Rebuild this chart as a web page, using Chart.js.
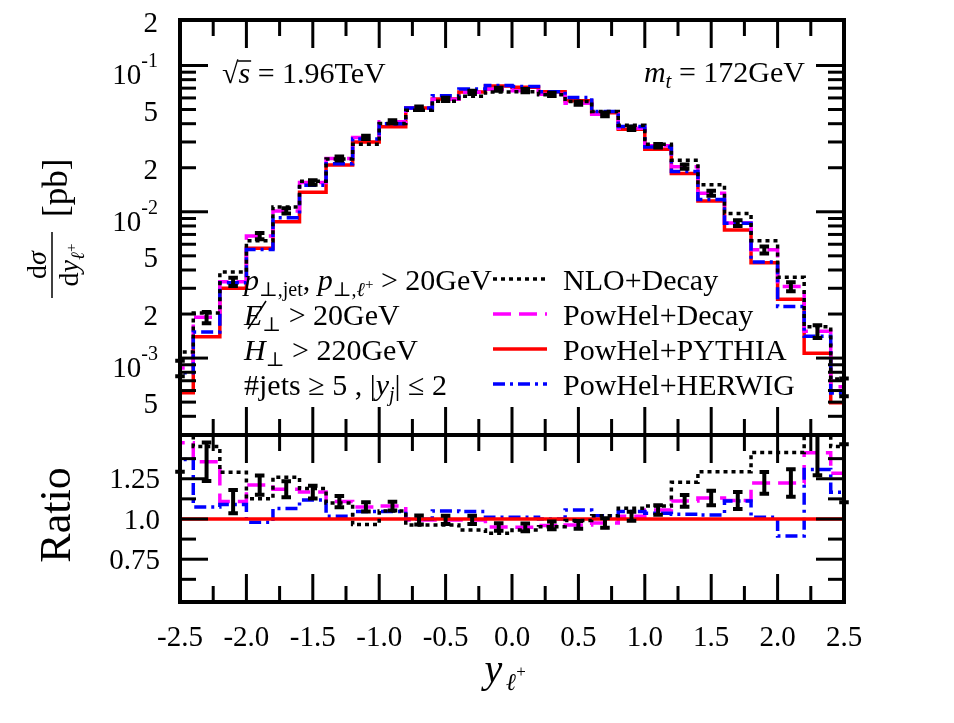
<!DOCTYPE html>
<html>
<head>
<meta charset="utf-8">
<script src="https://cdn.jsdelivr.net/npm/chart.js@4.4.1/dist/chart.umd.min.js"></script>
<style>
  body { margin: 0; background: #fff; }
  #wrap { position: relative; width: 954px; height: 723px; }
  #wrap canvas { position: absolute; left: 0; top: 0; }
</style>
</head>
<body>
<div id="wrap">
  <canvas id="ratioChart" width="954" height="723"></canvas>
  <canvas id="mainChart" width="954" height="723"></canvas>
</div>
<script>
// bins of width 0.2 (edges), centres at odd tenths
const binEdges = [-2.6, -2.4, -2.2, -2.0, -1.8, -1.6, -1.4, -1.2, -1.0, -0.8, -0.6, -0.4, -0.2, 0.0,
                  0.2, 0.4, 0.6, 0.8, 1.0, 1.2, 1.4, 1.6, 1.8, 2.0, 2.2, 2.4, 2.6];
const binCenters = [-2.5, -2.3, -2.1, -1.9, -1.7, -1.5, -1.3, -1.1, -0.9, -0.7, -0.5, -0.3, -0.1,
                    0.1, 0.3, 0.5, 0.7, 0.9, 1.1, 1.3, 1.5, 1.7, 1.9, 2.1, 2.3, 2.5];

// dsigma/dy [pb]
const nloDecay = [1.10e-3, 2.03e-3, 3.87e-3, 6.33e-3, 1.079e-2, 0.01617, 0.02299, 0.02898, 0.04011, 0.0494,
                  0.05691, 0.06151, 0.06596, 0.06617, 0.06302, 0.05673, 0.04855, 0.03902, 0.02894, 0.02247,
                  0.01533, 0.00972, 0.006349, 0.003563, 0.00164, 7.19e-4];
const powhelDecay = [8.55e-4, 1.90e-3, 3.32e-3, 6.82e-3, 1.014e-2, 0.01586, 0.02316, 0.03225, 0.04126, 0.0510,
                     0.05875, 0.0656, 0.06878, 0.06731, 0.06355, 0.05518, 0.04641, 0.03722, 0.0283, 0.02035,
                     0.01339, 0.008374, 0.005496, 0.003084, 0.001524, 6.37e-4];
const powhelPythia = [5.80e-4, 1.40e-3, 3.00e-3, 5.63e-3, 8.56e-3, 0.01359, 0.0209, 0.0300, 0.0382, 0.0513,
                      0.0591, 0.0660, 0.0724, 0.0710, 0.0662, 0.0573, 0.0476, 0.0366, 0.0268, 0.0183,
                      0.01185, 0.00751, 0.00449, 0.00252, 0.001079, 4.96e-4];
const powhelHerwig = [7.95e-4, 1.505e-3, 3.27e-3, 5.52e-3, 9.12e-3, 0.01519, 0.02126, 0.03138, 0.03996, 0.0512,
                      0.06206, 0.06904, 0.07312, 0.07171, 0.0662, 0.06051, 0.04855, 0.03828, 0.02774, 0.01885,
                      0.01215, 0.008351, 0.004535, 0.002253, 0.001411, 5.78e-4];
// relative error of PowHel+Decay
const decayRelErr = [0.122, 0.0885, 0.065, 0.0495, 0.042, 0.034, 0.031, 0.027, 0.025, 0.028, 0.026, 0.026, 0.024,
                     0.026, 0.025, 0.025, 0.030, 0.0275, 0.028, 0.033, 0.040, 0.047, 0.055, 0.070, 0.099, 0.14];

// ratios to PowHel+PYTHIA
const ratioNlo = [1.9, 1.45, 1.29, 1.125, 1.26, 1.19, 1.10, 0.966, 1.05, 0.963, 0.963, 0.932, 0.911,
                  0.932, 0.952, 0.99, 1.02, 1.066, 1.08, 1.228, 1.294, 1.294, 1.414, 1.414, 1.52, 1.45];
const ratioDecay = [1.474, 1.356, 1.108, 1.211, 1.185, 1.167, 1.108, 1.075, 1.08, 0.994, 0.994, 0.994, 0.95,
                    0.948, 0.96, 0.963, 0.975, 1.017, 1.056, 1.112, 1.13, 1.115, 1.224, 1.224, 1.412, 1.284];
const ratioPythia = [1, 1, 1, 1, 1, 1, 1, 1, 1, 1, 1, 1, 1, 1, 1, 1, 1, 1, 1, 1, 1, 1, 1, 1, 1, 1];
const ratioHerwig = [1.37, 1.075, 1.09, 0.98, 1.065, 1.118, 1.017, 1.046, 1.046, 0.998, 1.05, 1.046, 1.01,
                     1.01, 1.0, 1.056, 1.02, 1.046, 1.035, 1.03, 1.025, 1.112, 1.01, 0.894, 1.308, 1.166];

// ticks
const xMajorTicks = [-2.5, -2.0, -1.5, -1.0, -0.5, 0.0, 0.5, 1.0, 1.5, 2.0, 2.5];
const xMinorTicks = [-2.25, -1.75, -1.25, -0.75, -0.25, 0.25, 0.75, 1.25, 1.75, 2.25];
const xTickLabels = ['-2.5', '-2.0', '-1.5', '-1.0', '-0.5', '0.0', '0.5', '1.0', '1.5', '2.0', '2.5'];
const yDecadeTicks = [0.1, 0.01, 0.001];
const yMinorTicks = [0.2, 0.09, 0.08, 0.07, 0.06, 0.05, 0.04, 0.03, 0.02,
                     0.009, 0.008, 0.007, 0.006, 0.005, 0.004, 0.003, 0.002,
                     0.0009, 0.0008, 0.0007, 0.0006, 0.0005, 0.0004, 0.0003];
const yTickValues = [0.2, 0.1, 0.05, 0.02, 0.01, 0.005, 0.002, 0.001, 0.0005];
const yTickLabels = [['2', ''], ['10', '-1'], ['5', ''], ['2', ''], ['10', '-2'], ['5', ''], ['2', ''], ['10', '-3'], ['5', '']];
const ratioMajorTicks = [0.75, 1.0, 1.25];
const ratioMinorTicks = [0.625, 0.875, 1.125, 1.375];
const ratioTickLabels = ['0.75', '1.0', '1.25'];

const legendNames = ['NLO+Decay', 'PowHel+Decay', 'PowHel+PYTHIA', 'PowHel+HERWIG'];

const styles = {
  nlo: { color: '#000000', dash: [4, 4] },
  decay: { color: '#ff00ff', dash: [18, 8] },
  pythia: { color: '#ff0000', dash: [] },
  herwig: { color: '#0000ff', dash: [12, 5, 3, 5] }
};

const LW = 3.5;
const font = (s, it) => `${it ? 'italic ' : ''}${s}px "Liberation Serif", "DejaVu Serif", serif`;
const P = (t, s, i, dy) => ({ t, s, i: !!i, dy: dy || 0 });

function drawRich(ctx, x, y, parts, align) {
  let w = 0;
  parts.forEach(p => { ctx.font = font(p.s, p.i); w += ctx.measureText(p.t).width; });
  let cx = align === 'center' ? x - w / 2 : align === 'right' ? x - w : x;
  const pos = [];
  parts.forEach(p => {
    ctx.font = font(p.s, p.i);
    ctx.fillText(p.t, cx, y + p.dy);
    const pw = ctx.measureText(p.t).width;
    pos.push([cx, pw]);
    cx += pw;
  });
  return pos;
}

function steps(vals) {
  const pts = vals.map((v, i) => ({ x: binEdges[i], y: v }));
  pts.push({ x: binEdges[binEdges.length - 1], y: vals[vals.length - 1] });
  return pts;
}

function errorBars(vals, rel) {
  const w = 0.036, pts = [];
  binCenters.forEach((c, i) => {
    const lo = vals[i] * (1 - rel[i]), hi = vals[i] * (1 + rel[i]);
    pts.push({ x: c - w, y: lo }, { x: c + w, y: lo }, { x: c, y: null },
             { x: c, y: lo }, { x: c, y: hi }, { x: c, y: null },
             { x: c - w, y: hi }, { x: c + w, y: hi }, { x: c, y: null });
  });
  return pts;
}

function stepSet(vals, st, order) {
  return {
    data: steps(vals), stepped: 'before', borderColor: st.color, borderDash: st.dash,
    borderWidth: LW, pointRadius: 0, fill: false, borderCapStyle: 'butt', order: order
  };
}

function errSet(vals) {
  return {
    data: errorBars(vals, decayRelErr), borderColor: '#000', borderWidth: 4, pointRadius: 0,
    fill: false, spanGaps: false, borderCapStyle: 'butt', order: 0,
    clip: { left: 7, right: 7, top: 0, bottom: 0 }
  };
}

function line(ctx, x1, y1, x2, y2) {
  ctx.beginPath(); ctx.moveTo(x1, y1); ctx.lineTo(x2, y2); ctx.stroke();
}

function drawFrame(chart, yMajor, yMinor) {
  const { ctx, chartArea: a, scales } = chart;
  ctx.save();
  ctx.strokeStyle = '#000';
  ctx.lineWidth = 3;
  ctx.setLineDash([]);
  xMajorTicks.forEach(v => {
    const x = scales.x.getPixelForValue(v);
    line(ctx, x, a.top, x, a.top + 28); line(ctx, x, a.bottom, x, a.bottom - 28);
  });
  xMinorTicks.forEach(v => {
    const x = scales.x.getPixelForValue(v);
    line(ctx, x, a.top, x, a.top + 16); line(ctx, x, a.bottom, x, a.bottom - 16);
  });
  yMajor.forEach(v => {
    const y = scales.y.getPixelForValue(v);
    line(ctx, a.left, y, a.left + 28, y); line(ctx, a.right, y, a.right - 28, y);
  });
  yMinor.forEach(v => {
    const y = scales.y.getPixelForValue(v);
    if (y < a.top + 2 || y > a.bottom - 2) return;
    line(ctx, a.left, y, a.left + 16, y); line(ctx, a.right, y, a.right - 16, y);
  });
  ctx.lineWidth = 4;
  ctx.strokeRect(a.left, a.top, a.right - a.left, a.bottom - a.top);
  ctx.restore();
}

const mainDecor = {
  id: 'mainDecor',
  afterDatasetsDraw(chart) {
    const { ctx, scales } = chart;
    drawFrame(chart, yDecadeTicks, yMinorTicks);
    ctx.save();
    ctx.fillStyle = '#000';
    ctx.textBaseline = 'alphabetic';
    // y tick labels
    yTickValues.forEach((v, i) => {
      const y = scales.y.getPixelForValue(v);
      const [b, e] = yTickLabels[i];
      if (e) {
        ctx.font = font(20, false);
        const ew = ctx.measureText(e).width;
        ctx.textAlign = 'left';
        ctx.fillText(e, 158 - ew, y + 2);
        ctx.font = font(29, false);
        ctx.textAlign = 'right';
        ctx.fillText(b, 158 - ew, y + 19);
      } else {
        ctx.font = font(29, false);
        ctx.textAlign = 'right';
        ctx.fillText(b, 158, y + 11);
      }
    });
    ctx.textAlign = 'left';
    // sqrt(s) annotation
    const pos = drawRich(ctx, 222, 83, [P('\u221A', 30), P('s', 30, true), P(' = 1.96TeV', 30)]);
    ctx.lineWidth = 1.5;
    line(ctx, pos[1][0] - 1, 61, pos[1][0] + pos[1][1] + 1, 61);
    drawRich(ctx, 805, 82, [P('m', 30, true), P('t', 21, true, 6), P(' = 172GeV', 30)], 'right');
    // cut text
    const bl = [290, 325, 360, 395];
    drawRich(ctx, 244, bl[0], [P('p', 30, true), P('\u22A5,jet', 20, false, 6), P(', ', 30),
      P('p', 30, true), P('\u22A5,', 20, false, 6), P('\u2113', 20, true, 6), P('+', 15, false, -1), P(' > 20GeV', 30)]);
    const ep = drawRich(ctx, 244, bl[1], [P('E', 30, true), P('\u22A5', 20, false, 6), P(' > 20GeV', 30)]);
    ctx.lineWidth = 1.5;
    line(ctx, ep[0][0] + 4, bl[1] + 4, ep[0][0] + 22, bl[1] - 24);
    drawRich(ctx, 244, bl[2], [P('H', 30, true), P('\u22A5', 20, false, 6), P(' > 220GeV', 30)]);
    drawRich(ctx, 244, bl[3], [P('#jets \u2265 5 , |', 30), P('y', 30, true), P('j', 20, true, 6), P('| \u2264 2', 30)]);
    // legend
    const st = [styles.nlo, styles.decay, styles.pythia, styles.herwig];
    legendNames.forEach((name, i) => {
      ctx.font = font(30, false);
      ctx.fillText(name, 563, bl[i]);
      ctx.save();
      ctx.strokeStyle = st[i].color;
      ctx.lineWidth = LW;
      ctx.setLineDash(st[i].dash);
      line(ctx, 493, bl[i] - 11, 547, bl[i] - 11);
      ctx.restore();
    });
    // y title
    ctx.save();
    ctx.translate(52, 265);
    ctx.rotate(-Math.PI / 2);
    ctx.lineWidth = 1.5;
    line(ctx, -33, 0, 33, 0);
    drawRich(ctx, 0, -6, [P('d', 28), P('\u03C3', 28, true)], 'center');
    drawRich(ctx, 0, 26, [P('d', 28), P('y', 28, true), P('\u2113', 19, true, 6), P('+', 15, false, -2)], 'center');
    ctx.font = font(35, false);
    ctx.textAlign = 'left';
    ctx.fillText('[pb]', 48, 15);
    ctx.restore();
    ctx.restore();
  }
};

const ratioDecor = {
  id: 'ratioDecor',
  afterDatasetsDraw(chart) {
    const { ctx, scales } = chart;
    drawFrame(chart, ratioMajorTicks, ratioMinorTicks);
    ctx.save();
    ctx.fillStyle = '#000';
    ctx.font = font(29, false);
    ctx.textAlign = 'right';
    ctx.textBaseline = 'middle';
    ratioMajorTicks.forEach((v, i) => {
      ctx.fillText(ratioTickLabels[i], 160, scales.y.getPixelForValue(v) + 2);
    });
    ctx.textAlign = 'center';
    ctx.textBaseline = 'alphabetic';
    xMajorTicks.forEach((v, i) => {
      ctx.fillText(xTickLabels[i], scales.x.getPixelForValue(v), 646);
    });
    drawRich(ctx, 512, 682, [P('y', 40, true), P('\u2113', 24, true, 8), P('+', 17, false, -5)], 'center');
    ctx.save();
    ctx.translate(70, 515);
    ctx.rotate(-Math.PI / 2);
    ctx.font = font(44, false);
    ctx.textAlign = 'center';
    ctx.fillText('Ratio', 0, 0);
    ctx.restore();
    ctx.restore();
  }
};

const common = {
  responsive: false,
  animation: false,
  devicePixelRatio: 1,
  events: [],
  plugins: { legend: { display: false }, tooltip: { enabled: false } }
};

new Chart(document.getElementById('mainChart').getContext('2d'), {
  type: 'line',
  data: {
    datasets: [
      errSet(powhelDecay),
      stepSet(nloDecay, styles.nlo, 1),
      stepSet(powhelHerwig, styles.herwig, 2),
      stepSet(powhelDecay, styles.decay, 3),
      stepSet(powhelPythia, styles.pythia, 4)
    ]
  },
  options: Object.assign({}, common, {
    layout: { padding: { left: 180, top: 20, right: 110, bottom: 288 } },
    scales: {
      x: { type: 'linear', min: -2.5, max: 2.5, display: false },
      y: { type: 'logarithmic', min: 2.98e-4, max: 0.2046, display: false }
    }
  }),
  plugins: [mainDecor]
});

new Chart(document.getElementById('ratioChart').getContext('2d'), {
  type: 'line',
  data: {
    datasets: [
      errSet(ratioDecay),
      stepSet(ratioNlo, styles.nlo, 1),
      stepSet(ratioPythia, styles.pythia, 2),
      stepSet(ratioHerwig, styles.herwig, 3),
      stepSet(ratioDecay, styles.decay, 4)
    ]
  },
  options: Object.assign({}, common, {
    layout: { padding: { left: 180, top: 435, right: 110, bottom: 121 } },
    scales: {
      x: { type: 'linear', min: -2.5, max: 2.5, display: false },
      y: { type: 'linear', min: 0.484, max: 1.522, display: false }
    }
  }),
  plugins: [ratioDecor]
});
</script>
</body>
</html>
